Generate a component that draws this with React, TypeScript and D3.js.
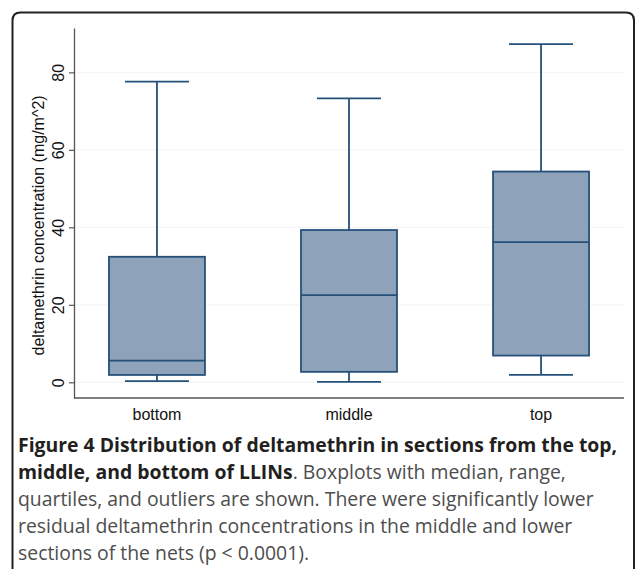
import * as d3 from "d3";
import { useEffect, useRef } from "react";

const categories = ["bottom", "middle", "top"];
const mins = [0.3, 0.1, 1.9];
const q1s = [1.9, 2.7, 6.9];
const medians = [5.6, 22.5, 36.2];
const q3s = [32.4, 39.3, 54.4];
const maxs = [77.6, 73.3, 87.3];
const yTicks = [0, 20, 40, 60, 80];

const yTitle = "deltamethrin concentration (mg/m^2)";
const captionLines = [
  [{ t: "Figure 4 Distribution of deltamethrin in sections from the top,", b: true }],
  [
    { t: "middle, and bottom of LLINs", b: true },
    { t: ". Boxplots with median, range,", b: false },
  ],
  [{ t: "quartiles, and outliers are shown. There were significantly lower", b: false }],
  [{ t: "residual deltamethrin concentrations in the middle and lower", b: false }],
  [{ t: "sections of the nets (p < 0.0001).", b: false }],
];

const W = 637;
const H = 569;

export default function App() {
  const ref = useRef<SVGSVGElement | null>(null);

  useEffect(() => {
    const el = ref.current;
    if (!el) return;
    const svg = d3.select(el);
    svg.selectAll("*").remove();

    const boxFill = "#8ea2b9";
    const boxStroke = "#24507a";
    const axisColor = "#555";
    const font = "Liberation Sans, Arial, sans-serif";

    // frame, open at the bottom
    svg
      .append("path")
      .attr("d", () => {
        const x0 = 12.5, y0 = 12.5, x1 = 634, y1 = H + 10, r = 8;
        return `M${x0},${y1} L${x0},${y0 + r} Q${x0},${y0} ${x0 + r},${y0} L${x1 - r},${y0} Q${x1},${y0} ${x1},${y0 + r} L${x1},${y1}`;
      })
      .attr("fill", "none")
      .attr("stroke", "#222")
      .attr("stroke-width", 2);

    const x = d3.scalePoint<string>().domain(categories).range([74, 624]).padding(0.432);
    const y = d3.scaleLinear().domain([-4.05, 91.45]).range([398, 28]);

    // faint grid
    svg
      .append("g")
      .selectAll("line")
      .data(yTicks)
      .enter()
      .append("line")
      .attr("x1", 75)
      .attr("x2", 624)
      .attr("y1", (d) => y(d))
      .attr("y2", (d) => y(d))
      .attr("stroke", "#f2f4f6")
      .attr("stroke-width", 1);

    // y axis
    svg
      .append("g")
      .attr("transform", "translate(74,0)")
      .call(d3.axisLeft(y).tickValues(yTicks).tickSize(5).tickSizeOuter(0).tickPadding(0))
      .call((g) => g.select(".domain").attr("stroke", axisColor).attr("stroke-width", 1.3))
      .call((g) => g.selectAll(".tick line").attr("stroke", axisColor).attr("stroke-width", 1.2))
      .call((g) =>
        g
          .selectAll(".tick text")
          .attr("fill", "#111")
          .attr("font-family", font)
          .attr("font-size", 16)
          .attr("text-anchor", "middle")
          .attr("x", null)
          .attr("dy", null)
          .attr("transform", "translate(-10.5,0) rotate(-90)")
      );

    // x axis line
    svg
      .append("line")
      .attr("x1", 74)
      .attr("x2", 624)
      .attr("y1", 398)
      .attr("y2", 398)
      .attr("stroke", axisColor)
      .attr("stroke-width", 1.3);

    svg
      .append("g")
      .selectAll("text")
      .data(categories)
      .enter()
      .append("text")
      .attr("x", (d) => x(d) ?? 0)
      .attr("y", 419.5)
      .attr("text-anchor", "middle")
      .attr("font-family", font)
      .attr("font-size", 16)
      .attr("fill", "#111")
      .text((d) => d);

    svg
      .append("text")
      .attr("transform", `translate(44,${y(40.5)}) rotate(-90)`)
      .attr("text-anchor", "middle")
      .attr("font-family", font)
      .attr("font-size", 16)
      .attr("fill", "#111")
      .text(yTitle);

    // boxes
    const boxW = 96;
    const capW = 64;
    const g = svg.append("g").attr("stroke", boxStroke).attr("stroke-width", 1.8);
    categories.forEach((c, i) => {
      const cx = x(c) ?? 0;
      g.append("line").attr("x1", cx).attr("x2", cx).attr("y1", y(maxs[i])).attr("y2", y(q3s[i]));
      g.append("line").attr("x1", cx).attr("x2", cx).attr("y1", y(q1s[i])).attr("y2", y(mins[i]));
      g.append("line").attr("x1", cx - capW / 2).attr("x2", cx + capW / 2).attr("y1", y(maxs[i])).attr("y2", y(maxs[i]));
      g.append("line").attr("x1", cx - capW / 2).attr("x2", cx + capW / 2).attr("y1", y(mins[i])).attr("y2", y(mins[i]));
      g.append("rect")
        .attr("x", cx - boxW / 2)
        .attr("y", y(q3s[i]))
        .attr("width", boxW)
        .attr("height", y(q1s[i]) - y(q3s[i]))
        .attr("fill", boxFill);
      g.append("line")
        .attr("x1", cx - boxW / 2)
        .attr("x2", cx + boxW / 2)
        .attr("y1", y(medians[i]))
        .attr("y2", y(medians[i]));
    });

    // caption
    const cap = svg.append("g").attr("font-family", "Open Sans, sans-serif").attr("font-size", 19.4);
    captionLines.forEach((line, i) => {
      const t = cap.append("text").attr("x", 18).attr("y", 452 + i * 27);
      line.forEach((s) => {
        t.append("tspan")
          .attr("font-weight", s.b ? 700 : 400)
          .attr("fill", s.b ? "#231f20" : "#4d4d4d")
          .text(s.t);
      });
    });
  }, []);

  return (
    <svg
      ref={ref}
      width={W}
      height={H}
      style={{ position: "absolute", left: 0, top: 0, background: "#fff", display: "block" }}
    />
  );
}
